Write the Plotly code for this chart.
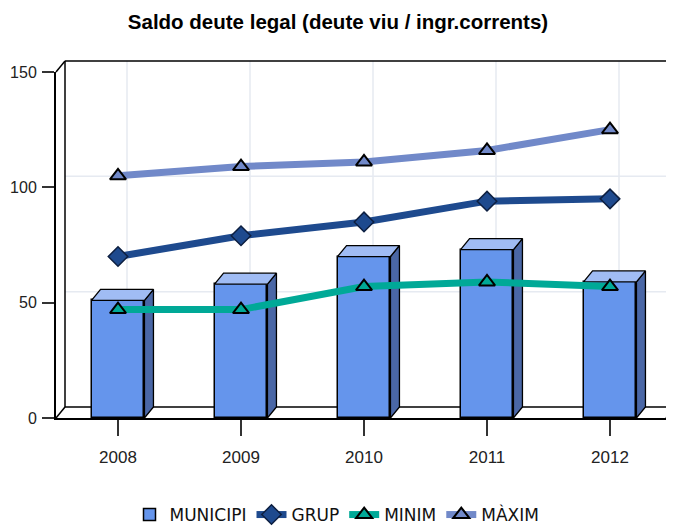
import plotly.graph_objects as go

# ---------------- data ----------------
years = ["2008", "2009", "2010", "2011", "2012"]
municipi = [51, 58, 70, 73, 59]
grup = [70, 79, 85, 94, 95]
minim = [47, 47, 57, 59, 57]
maxim = [105, 109, 111, 116, 125]
y_ticks = [0, 50, 100, 150]

# ---------------- geometry ----------------
OFF = 8                               # page body margin of the html page
W, H = 674 - OFF, 529 - OFF
ML, MT = 56 - OFF, 72 - OFF
PLOT_RIGHT, PLOT_BOTTOM = 666 - OFF, 418 - OFF
MR, MB = W - PLOT_RIGHT, H - PLOT_BOTTOM
PW = W - ML - MR
PH = H - MT - MB
FIRST_PX, CAT_PX = 118 - OFF, 123     # pixel of first category, pixels per category
Y_MAX = 150
DX, DY = 9, 11                        # 3-D depth offset in pixels
x_lo = (ML - FIRST_PX) / CAT_PX
x_hi = (ML + PW - FIRST_PX) / CAT_PX
px_per_unit = PH / Y_MAX
dx = DX / CAT_PX
dy = DY / px_per_unit
BAR_W = 0.43

idx = list(range(len(years)))

C_FRONT = "#6595EC"
C_TOP = "#A0BCF4"
C_SIDE = "#4A67A6"
C_MAX = "#7189C9"
C_GRUP = "#1E4A8E"
C_MIN = "#00A997"
GRID = "#E6EAF1"

fig = go.Figure()

# front faces of bars
fig.add_trace(go.Bar(
    x=idx, y=municipi, width=BAR_W, name="MUNICIPI",
    marker=dict(color=C_FRONT, line=dict(color="black", width=1.5)),
))

# top and side faces (3-D look) computed from the data
top_x, top_y, side_x, side_y = [], [], [], []
for x, v in zip(idx, municipi):
    l, r = x - BAR_W / 2, x + BAR_W / 2
    top_x += [l, r, r + dx, l + dx, l, None]
    top_y += [v, v, v + dy, v + dy, v, None]
    side_x += [r, r + dx, r + dx, r, r, None]
    side_y += [0, dy, v + dy, v, 0, None]
fig.add_trace(go.Scatter(x=side_x, y=side_y, mode="lines", fill="toself",
                         fillcolor=C_SIDE, line=dict(color="black", width=1.3),
                         showlegend=False, hoverinfo="skip"))
fig.add_trace(go.Scatter(x=top_x, y=top_y, mode="lines", fill="toself",
                         fillcolor=C_TOP, line=dict(color="black", width=1.3),
                         showlegend=False, hoverinfo="skip"))

# lines
fig.add_trace(go.Scatter(
    x=idx, y=grup, name="GRUP", mode="lines+markers",
    line=dict(color=C_GRUP, width=7),
    marker=dict(symbol="diamond", size=15, color=C_GRUP, line=dict(color="#0D1F40", width=1.5)),
))
fig.add_trace(go.Scatter(
    x=idx, y=minim, name="MINIM", mode="lines+markers",
    line=dict(color=C_MIN, width=7),
    marker=dict(symbol="triangle-up", size=14, color=C_MIN, line=dict(color="black", width=2)),
))
fig.add_trace(go.Scatter(
    x=idx, y=maxim, name="MÀXIM", mode="lines+markers",
    line=dict(color=C_MAX, width=7),
    marker=dict(symbol="triangle-up", size=14, color=C_MAX, line=dict(color="black", width=2)),
))

# ---------------- 3-D frame ----------------
def px2paper_x(px):
    return (px - ML) / PW

def px2paper_y(py):
    return (H - MB - py) / PH

shapes = []
# back-wall gridlines (vertical, one per category)
for i in idx:
    shapes.append(dict(type="line", xref="x", xsizemode="pixel", xanchor=i, x0=DX, x1=DX,
                       yref="paper", y0=DY / PH, y1=1 + DY / PH,
                       line=dict(color=GRID, width=1.5), layer="below"))
# back-wall gridlines (horizontal)
for v in y_ticks[1:-1]:
    shapes.append(dict(type="line", yref="y", ysizemode="pixel", yanchor=v, y0=DY, y1=DY,
                       xref="paper", x0=DX / PW, x1=1.2,
                       line=dict(color=GRID, width=1.5), layer="below"))
frame = dict(color="black", width=1.5)
bx0 = px2paper_x(ML + DX)
by0 = px2paper_y(H - MB - DY)
by1 = px2paper_y(MT - DY)
shapes += [
    dict(type="line", xref="paper", yref="paper", x0=bx0, x1=bx0, y0=by0, y1=by1, line=frame, layer="below"),
    dict(type="line", xref="paper", yref="paper", x0=bx0, x1=1.2, y0=by1, y1=by1, line=frame, layer="below"),
    dict(type="line", xref="paper", yref="paper", x0=bx0, x1=1.2, y0=by0, y1=by0, line=frame, layer="below"),
    dict(type="line", xref="paper", yref="paper", x0=0, x1=bx0, y0=1, y1=by1, line=frame, layer="below"),
    dict(type="line", xref="paper", yref="paper", x0=0, x1=bx0, y0=0, y1=by0, line=frame, layer="below"),
    dict(type="line", xref="paper", yref="paper", x0=1, x1=1 + DX / PW, y0=0, y1=by0, line=frame, layer="below"),
]

x_tick_font = dict(family="Liberation Sans, Arial, sans-serif", size=17, color="#222222")
y_tick_font = dict(family="Liberation Sans, Arial, sans-serif", size=16, color="#222222")

fig.update_layout(
    width=W, height=H,
    margin=dict(l=ML, r=MR, t=MT, b=MB, pad=0, autoexpand=False),
    paper_bgcolor="white", plot_bgcolor="rgba(0,0,0,0)",
    title=dict(text="<b>Saldo deute legal (deute viu / ingr.corrents)</b>",
               x=(338 - OFF) / W, xanchor="center", xref="container",
               y=1 - (22 - OFF) / H, yanchor="middle",
               font=dict(family="Liberation Sans, Arial, sans-serif", size=20.5, color="black")),
    xaxis=dict(range=[x_lo, x_hi], tickvals=idx, ticktext=years, showgrid=False, zeroline=False,
               showline=True, linecolor="black", linewidth=2, ticks="outside", ticklen=16,
               tickwidth=1.5, tickcolor="#333333", tickfont=x_tick_font, ticklabelstandoff=7,
               automargin=False),
    yaxis=dict(range=[0, Y_MAX], tickvals=y_ticks, showgrid=False, zeroline=False,
               showline=True, linecolor="black", linewidth=2, ticks="outside", ticklen=12,
               tickwidth=1.5, tickcolor="#333333", tickfont=y_tick_font, ticklabelstandoff=2,
               automargin=False),
    legend=dict(orientation="h", x=(337 - OFF) / W, xanchor="center", xref="container",
                y=px2paper_y(515 - OFF), yanchor="middle",
                font=dict(family="DejaVu Sans, sans-serif", size=17, color="#111111"),
                itemwidth=30, bgcolor="rgba(0,0,0,0)"),
    shapes=shapes,
    showlegend=True,
    bargap=0,
)

fig.write_html("out.html")
